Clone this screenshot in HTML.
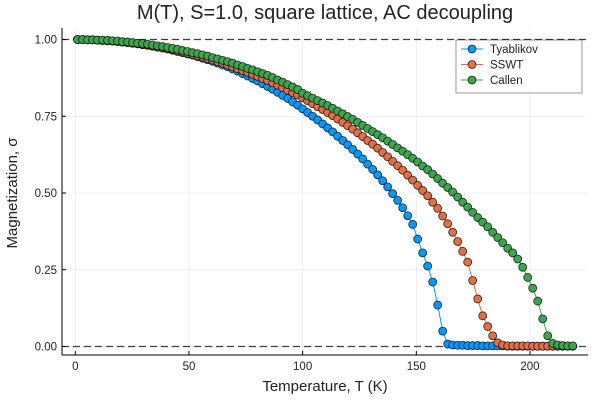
<!DOCTYPE html>
<html><head><meta charset="utf-8"><style>
body{margin:0;background:#fff}
svg text{font-family:"Liberation Sans",sans-serif;fill:#222}
</style></head><body>
<svg id="chart" width="600" height="400" xmlns="http://www.w3.org/2000/svg">
<rect width="600" height="400" fill="#fff"/>
<text x="325" y="19" font-size="20" text-anchor="middle">M(T), S=1.0, square lattice, AC decoupling</text>
<text x="325" y="391" font-size="15" text-anchor="middle">Temperature, T (K)</text>
<text transform="translate(17,193) rotate(-90)" font-size="15" text-anchor="middle">Magnetization, σ</text>
<g id="grid"></g><g id="axes"></g><g id="series"></g><g id="legend"></g>
</svg>
<script>
const xTicks=[0,50,100,150,200];
const yTicks=[0,0.25,0.5,0.75,1.0];
const yTickLabels=["0.00","0.25","0.50","0.75","1.00"];
const temps=[1.0,3.2,5.4,7.6,9.8,12.0,14.2,16.4,18.6,20.8,23.0,25.2,27.4,29.6,31.8,34.0,36.2,38.4,40.6,42.8,45.0,47.2,49.4,51.6,53.8,56.0,58.2,60.4,62.6,64.8,67.0,69.2,71.4,73.6,75.8,78.0,80.2,82.4,84.6,86.8,89.0,91.2,93.4,95.6,97.8,100.0,102.2,104.4,106.6,108.8,111.0,113.2,115.4,117.6,119.8,122.0,124.2,126.4,128.6,130.8,133.0,135.2,137.4,139.6,141.8,144.0,146.2,148.4,150.6,152.8,155.0,157.2,159.4,161.6,163.8,166.0,168.2,170.4,172.6,174.8,177.0,179.2,181.4,183.6,185.8,188.0,190.2,192.4,194.6,196.8,199.0,201.2,203.4,205.6,207.8,210.0,212.2,214.4,216.6,218.8];
const tyablikov=[1.000,1.000,.999,.999,.998,.997,.996,.995,.993,.992,.990,.988,.986,.983,.981,.978,.975,.972,.969,.965,.961,.957,.953,.949,.944,.939,.934,.929,.923,.917,.911,.904,.897,.889,.881,.873,.865,.856,.847,.838,.828,.818,.808,.797,.786,.774,.762,.750,.738,.725,.712,.699,.685,.671,.657,.642,.627,.611,.594,.577,.559,.540,.520,.498,.476,.452,.426,.398,.350,.305,.262,.210,.135,.050,.008,.005,.004,.004,.003,.003,.003,.002,.002,.002,.002,.002,.001,.001,.001,.001,.001,.001,.001,.001,.001,.001,.001,.001,.001,.001];
const sswt=[1.000,1.000,.999,.999,.998,.997,.996,.995,.994,.992,.990,.988,.986,.984,.982,.979,.976,.973,.970,.967,.963,.959,.955,.951,.947,.943,.938,.933,.928,.923,.917,.911,.905,.899,.893,.887,.880,.873,.866,.859,.851,.843,.835,.827,.819,.810,.801,.791,.781,.772,.762,.752,.741,.730,.719,.708,.696,.684,.671,.659,.646,.632,.618,.603,.589,.574,.558,.542,.525,.508,.491,.470,.450,.425,.400,.372,.342,.310,.275,.215,.155,.100,.065,.035,.012,.005,.002,.002,.002,.002,.002,.001,.001,.001,.001,.001,.001,.001,.001,.001];
const callen=[1.000,1.000,.999,.999,.998,.998,.997,.996,.995,.993,.992,.990,.988,.987,.985,.982,.979,.977,.974,.971,.968,.964,.961,.957,.954,.950,.946,.941,.937,.932,.928,.923,.917,.912,.906,.901,.895,.889,.883,.876,.868,.861,.853,.845,.837,.825,.817,.809,.801,.793,.785,.776,.767,.758,.749,.740,.730,.720,.710,.700,.690,.680,.669,.658,.647,.636,.625,.613,.601,.588,.576,.562,.547,.532,.518,.503,.487,.470,.454,.437,.420,.405,.390,.372,.355,.338,.320,.305,.285,.258,.225,.190,.148,.090,.035,.010,.005,.003,.002,.002];
const seriesNames=["Tyablikov","SSWT","Callen"];
const seriesData=[tyablikov,sswt,callen];
const colors=["#009afa","#e26f46","#3ea44e"];
const NS="http://www.w3.org/2000/svg";
const L=62,R=588,T=28,B=355;
function X(t){return 75.3+t*2.2734;}
function Y(v){return 346.5-v*307;}
function mk(tag,attrs,parent){const e=document.createElementNS(NS,tag);for(const k in attrs)e.setAttribute(k,attrs[k]);parent.appendChild(e);return e;}
const grid=document.getElementById('grid'),axes=document.getElementById('axes'),ser=document.getElementById('series'),leg=document.getElementById('legend');
xTicks.forEach(t=>{
 const g=mk('line',{x1:X(t),x2:X(t),y1:T,y2:B,stroke:'#000','stroke-opacity':0.1,'stroke-width':0.6},grid);
 
 
 const tk=mk('line',{x1:X(t),x2:X(t),y1:B,y2:B-4,stroke:'#000','stroke-width':1},axes);
 
 
 const tx=mk('text',{x:X(t),y:B+15,'font-size':11.5,'text-anchor':'middle'},axes);
 tx.textContent=t;
 
 
});
yTicks.forEach((v,i)=>{
 const g=mk('line',{x1:L,x2:R,y1:Y(v),y2:Y(v),stroke:'#000','stroke-opacity':0.1,'stroke-width':0.6},grid);
 
 
 const tk=mk('line',{x1:L,x2:L+4,y1:Y(v),y2:Y(v),stroke:'#000','stroke-width':1},axes);
 
 
 const tx=mk('text',{x:L-5,y:Y(v)+4,'font-size':11.5,'text-anchor':'end'},axes);
 tx.textContent=yTickLabels[i];
 
 
});
const xa=mk('line',{x1:L,x2:R,y1:B,y2:B,stroke:'#000','stroke-width':1},axes);


const ya=mk('line',{x1:L,x2:L,y1:T,y2:B,stroke:'#000','stroke-width':1},axes);


[1,0].forEach(v=>{
 const d=mk('line',{x1:L,x2:R,y1:Y(v),y2:Y(v),stroke:'#000','stroke-opacity':0.75,'stroke-width':1.2,'stroke-dasharray':'7,4'},ser);
 
 
});
seriesData.forEach((arr,s)=>{
 const g=mk('g',{},ser);
 
 
 const pl=mk('polyline',{points:arr.map((v,i)=>X(temps[i])+','+Y(v)).join(' '),fill:'none',stroke:colors[s],'stroke-width':1},g);
 
 
 arr.forEach((v,i)=>{
  const c=mk('circle',{cx:X(temps[i]),cy:Y(v),r:4,fill:colors[s],stroke:'#000','stroke-opacity':0.8,'stroke-width':0.8},g);
  
  
 });
});
const lb=mk('rect',{x:456,y:40,width:126,height:53,fill:'#fff',stroke:'#000','stroke-opacity':0.5,'stroke-width':0.8},leg);


seriesNames.forEach((n,s)=>{
 const yy=49+s*15.5;
 const g=mk('g',{},leg);
 
 
 mk('line',{x1:461,x2:483,y1:yy,y2:yy,stroke:colors[s],'stroke-width':1},g);
 mk('circle',{cx:472,cy:yy,r:4,fill:colors[s],stroke:'#000','stroke-opacity':0.8,'stroke-width':0.8},g);
 const t=mk('text',{x:490,y:yy+4,'font-size':11.5},g);
 t.textContent=n;
});
</script>
</body></html>
